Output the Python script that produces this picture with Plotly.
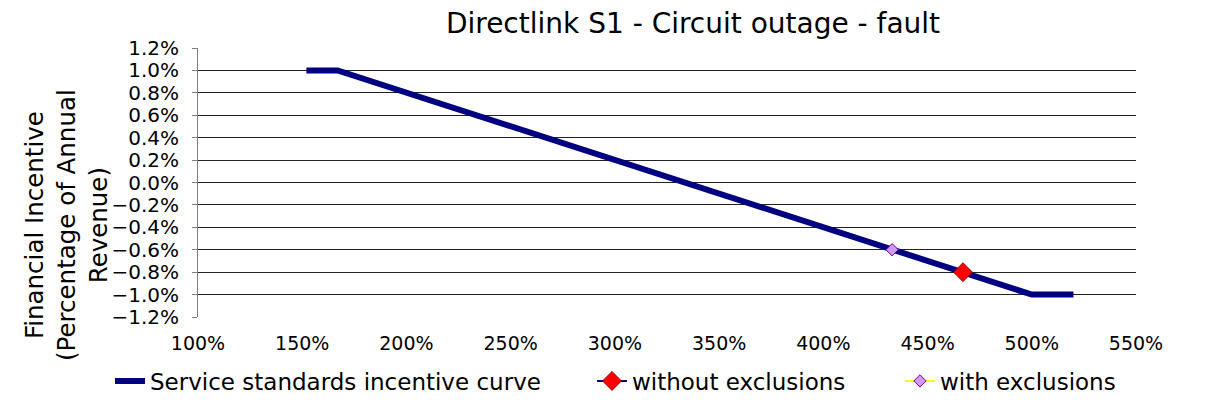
import plotly.graph_objects as go

# ---- data ----
curve_x = [1.52, 1.67, 5.00, 5.20]
curve_y = [0.010, 0.010, -0.010, -0.010]
without_x = [4.67]
without_y = [-0.008]
with_x = [4.33]
with_y = [-0.006]

x_ticks = [1.0, 1.5, 2.0, 2.5, 3.0, 3.5, 4.0, 4.5, 5.0, 5.5]
y_ticks = [-0.012, -0.010, -0.008, -0.006, -0.004, -0.002, 0.0,
           0.002, 0.004, 0.006, 0.008, 0.010, 0.012]

title_text = "Directlink S1 - Circuit outage - fault"
ytitle_text = "Financial Incentive<br>(Percentage of Annual<br>Revenue)"

FONT = "DejaVu Sans"
OFF = 8  # page body margin
W, H = 1208 - OFF, 405 - OFF
# target plot area in screenshot pixels: x 198..1136, y 48..317
L, R, T, B = 198 - OFF, 1208 - 1136, 48 - OFF, 405 - 317
PW = W - L - R
PH = H - T - B


def cx(px):
    return (px - OFF) / W


def cy(py):
    return 1 - (py - OFF) / H


def px_x(px):
    return (px - OFF - L) / PW


def px_y(py):
    return (H - B - (py - OFF)) / PH


fig = go.Figure()

fig.add_trace(go.Scatter(
    x=curve_x, y=curve_y, mode="lines",
    name="Service standards incentive curve",
    line=dict(color="#000080", width=6),
    legend="legend", showlegend=True,
))
fig.add_trace(go.Scatter(
    x=without_x, y=without_y, mode="lines+markers",
    name="without exclusions",
    line=dict(color="#000080", width=2),
    marker=dict(symbol="diamond", size=14.5, color="#FF0000",
                line=dict(color="#990000", width=1)),
    legend="legend2", showlegend=True,
))
fig.add_trace(go.Scatter(
    x=with_x, y=with_y, mode="lines+markers",
    name="with exclusions",
    line=dict(color="#FFFF00", width=2),
    marker=dict(symbol="diamond", size=9.5, color="#CC99FF",
                line=dict(color="#800080", width=1)),
    legend="legend3", showlegend=True,
))

legend_common = dict(
    orientation="h", yanchor="middle", xanchor="left",
    xref="container", yref="container",
    y=cy(381), font=dict(family=FONT, size=23, color="black"),
    bgcolor="rgba(0,0,0,0)", borderwidth=0,
)

fig.update_layout(
    width=W, height=H,
    showlegend=True,
    margin=dict(l=L, r=R, t=T, b=B),
    paper_bgcolor="white", plot_bgcolor="white",
    font=dict(family=FONT, color="black"),
    title=dict(text=title_text, x=cx(693), xref="container", xanchor="center",
               y=cy(23), yref="container", yanchor="middle",
               font=dict(family=FONT, size=28, color="black")),
    legend=dict(x=cx(110), **legend_common),
    legend2=dict(x=cx(592), **legend_common),
    legend3=dict(x=cx(900), **legend_common),
    xaxis=dict(
        range=[1.0, 5.5], tickvals=x_ticks, tickformat=".0%",
        showgrid=False, zeroline=False, showline=False,
        ticks="", ticklabelstandoff=13, automargin=False,
        tickfont=dict(family=FONT, size=19, color="black"),
    ),
    xaxis2=dict(
        range=[1.0, 5.5], tickvals=x_ticks, overlaying="x",
        anchor="free", position=0.5, side="bottom",
        showgrid=False, zeroline=False, showline=True,
        linecolor="#222222", linewidth=1,
        ticks="outside", ticklen=6, tickcolor="#555555", tickwidth=1,
        showticklabels=False, automargin=False,
    ),
    yaxis=dict(
        range=[-0.012, 0.012], tickvals=y_ticks, tickformat=".1%",
        showgrid=True, gridcolor="#222222", gridwidth=1,
        zeroline=False, showline=True, linecolor="#808080", linewidth=1,
        ticks="outside", ticklen=5, tickcolor="#808080",
        ticklabelstandoff=9, automargin=False,
        tickfont=dict(family=FONT, size=20, color="black"),
    ),
    annotations=[dict(
        text=ytitle_text, textangle=-90, xref="paper", yref="paper",
        x=px_x(66), y=px_y(225), xanchor="center", yanchor="middle",
        showarrow=False, align="center",
        font=dict(family=FONT, size=24.5, color="black"),
    )],
)

fig.write_html("out.html")
